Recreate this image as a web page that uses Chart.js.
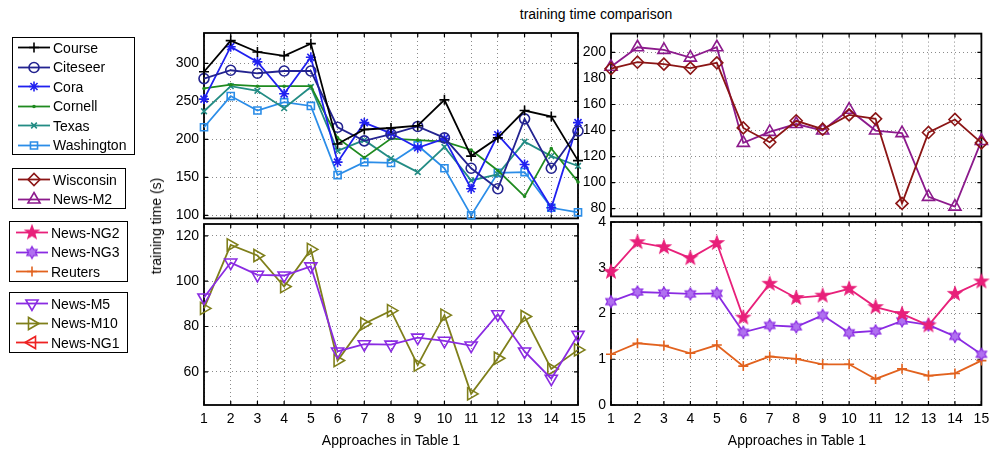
<!DOCTYPE html>
<html>
<head>
<meta charset="utf-8">
<script src="https://cdn.jsdelivr.net/npm/chart.js@4.4.1/dist/chart.umd.min.js"></script>
<style>
  body { margin: 0; background: #fff; font-family: "Liberation Sans", Arial, sans-serif; }
  #wrap { position: relative; width: 990px; height: 454px; overflow: hidden; }
  canvas.plot { position: absolute; }
  .txt { position: absolute; font-size: 14px; color: #000; white-space: nowrap; }
  .legend { position: absolute; border: 1px solid #000; background: #fff; box-sizing: border-box; }
  .row { display: flex; align-items: center; height: 19.5px; font-size: 14px; }
  .row canvas { display: block; }
</style>
</head>
<body>
<div id="wrap">
  <canvas class="plot" id="cTL" style="left:150px;top:25px" width="440" height="200"></canvas>
  <canvas class="plot" id="cTR" style="left:580px;top:25px" width="410" height="200"></canvas>
  <canvas class="plot" id="cBL" style="left:150px;top:214px" width="440" height="212"></canvas>
  <canvas class="plot" id="cBR" style="left:580px;top:212px" width="410" height="214"></canvas>
  <div class="txt" style="left:596px;top:6px;transform:translateX(-50%)">training time comparison</div>
  <div class="txt" style="left:156px;top:226px;transform:translate(-50%,-50%) rotate(-90deg)">training time (s)</div>
  <div class="txt" style="left:391px;top:432px;transform:translateX(-50%)">Approaches in Table 1</div>
  <div class="txt" style="left:797px;top:432px;transform:translateX(-50%)">Approaches in Table 1</div>
</div>
<script>
// x categories (approach number)
var approaches = ['1','2','3','4','5','6','7','8','9','10','11','12','13','14','15'];

// top left panel
var course     = [289, 330, 315, 310, 326, 194, 213, 215, 218, 252, 178, 202, 238, 230, 172];
var citeseer   = [280, 291, 287, 290, 290, 216, 198, 207, 217, 202, 162, 135, 227, 162, 211];
var cora       = [253, 322, 302, 260, 308, 170, 222, 208, 189, 201, 135, 206, 167, 110, 222];
var cornell    = [267, 272, 270, 270, 270, 202, 176, 201, 199, 197, 186, 159, 125, 188, 144];
var texas      = [237, 270, 264, 241, 269, 185, 199, 175, 157, 190, 146, 154, 197, 178, 165];
var washington = [216, 257, 238, 249, 244, 153, 170, 169, 192, 162, 100, 156, 157, 110, 104];

// top right panel
var wisconsin  = [187.5, 192.5, 191, 188, 192, 142, 131, 147.5, 141, 152, 149, 84, 138.5, 148.5, 130.5];
var newsM2     = [189, 204, 202, 196, 204, 130.5, 139, 145, 140, 156, 140, 138, 89, 81.5, 132];

// bottom left panel
var newsM5     = [92.8, 108.2, 102.8, 102.5, 106.5, 69, 72.2, 72, 75.1, 73.7, 71.6, 85.4, 69, 57, 76.3];
var newsM10    = [88, 116, 111.3, 97.6, 114, 65, 81.2, 87, 63, 85, 50.3, 66, 84.4, 61.3, 69.7];
var newsNG1    = [];

// bottom right panel
var newsNG2    = [2.91, 3.56, 3.45, 3.21, 3.54, 1.91, 2.65, 2.34, 2.39, 2.54, 2.14, 1.99, 1.74, 2.43, 2.70];
var newsNG3    = [2.26, 2.47, 2.45, 2.43, 2.44, 1.59, 1.74, 1.71, 1.96, 1.58, 1.62, 1.84, 1.75, 1.50, 1.11];
var reuters    = [1.11, 1.35, 1.30, 1.13, 1.31, 0.85, 1.06, 1.01, 0.89, 0.89, 0.57, 0.79, 0.64, 0.69, 0.97];

// y tick labels
var ticksTL = [100, 150, 200, 250, 300];
var ticksTR = [80, 100, 120, 140, 160, 180, 200];
var ticksBL = [60, 80, 100, 120];
var ticksBR = [0, 1, 2, 3, 4];

var FONT = "'Liberation Sans', Arial, sans-serif";

// star shaped markers (pentagram, hexagram) drawn to little canvases
function starMarker(points, rOut, rIn, color, fill) {
	var c = document.createElement('canvas');
	var s = Math.ceil(rOut * 2 + 4);
	c.width = s; c.height = s;
	var g = c.getContext('2d');
	g.translate(s / 2, s / 2);
	g.beginPath();
	for (var i = 0; i < points * 2; i++) {
		var r = i % 2 ? rIn : rOut;
		var a = -Math.PI / 2 + i * Math.PI / points;
		g.lineTo(r * Math.cos(a), r * Math.sin(a));
	}
	g.closePath();
	g.fillStyle = fill;
	g.fill();
	g.lineWidth = 1.2;
	g.strokeStyle = color;
	g.stroke();
	return c;
}
var pentagram = starMarker(5, 7, 2.9, '#e8207a', '#e8207a');
var hexagram = starMarker(6, 6, 3.5, '#8a2be2', '#b070f0');

function ds(label, data, color, style, radius, rot, fill) {
	return {
		label: label, data: data,
		borderColor: color, backgroundColor: color,
		borderWidth: 1.8,
		pointStyle: style, pointRadius: radius, pointRotation: rot || 0,
		pointBorderColor: color, pointBorderWidth: 1.6,
		pointBackgroundColor: fill ? color : 'rgba(0,0,0,0)',
		tension: 0, clip: false
	};
}

var setsTL = [
	ds('Course', course, '#000000', 'cross', 5),
	ds('Citeseer', citeseer, '#232390', 'circle', 5),
	ds('Cora', cora, '#2020f0', 'star', 5, 0, true),
	ds('Cornell', cornell, '#1f8a1f', 'circle', 1, 0, true),
	ds('Texas', texas, '#238c84', 'crossRot', 4),
	ds('Washington', washington, '#2b8de8', 'rect', 5)
];
var setsTR = [
	ds('Wisconsin', wisconsin, '#8b1515', 'rectRot', 6),
	ds('News-M2', newsM2, '#8c1a8c', 'triangle', 7)
];
var setsBR = [
	ds('News-NG2', newsNG2, '#e8207a', pentagram, 7),
	ds('News-NG3', newsNG3, '#8a2be2', hexagram, 6),
	ds('Reuters', reuters, '#e2621e', 'cross', 5)
];
var setsBL = [
	ds('News-M5', newsM5, '#8a2be2', 'triangle', 7, 180),
	ds('News-M10', newsM10, '#7f7f1a', 'triangle', 7, 90),
	ds('News-NG1', newsNG1, '#ee2222', 'triangle', 7, -90)
];

// black box round the plot area with inward tick marks
var boxPlugin = {
	id: 'box',
	beforeDatasetsDraw: function(chart) {
		var a = chart.chartArea, g = chart.ctx;
		g.save();
		g.strokeStyle = '#000';
		g.lineWidth = 1.2;
		g.setLineDash([]);
		g.beginPath();
		chart.scales.x.ticks.forEach(function(t, i) {
			var px = chart.scales.x.getPixelForTick(i);
			g.moveTo(px, a.bottom); g.lineTo(px, a.bottom - 4);
			g.moveTo(px, a.top); g.lineTo(px, a.top + 4);
		});
		chart.scales.y.ticks.forEach(function(t) {
			var py = chart.scales.y.getPixelForValue(t.value);
			g.moveTo(a.left, py); g.lineTo(a.left + 4, py);
			g.moveTo(a.right, py); g.lineTo(a.right - 4, py);
		});
		g.stroke();
		g.lineWidth = 1.8;
		g.strokeRect(a.left, a.top, a.right - a.left, a.bottom - a.top);
		g.restore();
	}
};

function makeChart(id, sets, yMin, yMax, yTicks, yWidth, showX, pad) {
	return new Chart(document.getElementById(id), {
		type: 'line',
		data: { labels: approaches, datasets: sets },
		options: {
			responsive: false,
			animation: false,
			layout: { padding: pad },
			plugins: { legend: { display: false }, tooltip: { enabled: false } },
			scales: {
				x: {
					type: 'category', offset: false,
					grid: { color: '#8a8a8a', lineWidth: 1, drawTicks: false },
					border: { display: false, dash: [1, 3] },
					ticks: { display: showX, color: '#000', font: { family: FONT, size: 14 }, padding: 6, maxRotation: 0, autoSkip: false },
					afterFit: function(s) { s.height = showX ? 21 : 0; s.paddingLeft = 0; s.paddingRight = 0; }
				},
				y: {
					min: yMin, max: yMax,
					grid: { color: '#8a8a8a', lineWidth: 1, drawTicks: false },
					border: { display: false, dash: [1, 3] },
					ticks: { color: '#000', font: { family: FONT, size: 14 }, padding: 5 },
					afterBuildTicks: function(s) { s.ticks = yTicks.map(function(v) { return { value: v }; }); },
					afterFit: function(s) { s.width = yWidth; s.paddingTop = 0; s.paddingBottom = 0; }
				}
			}
		},
		plugins: [boxPlugin]
	});
}

makeChart('cTL', setsTL, 96, 340, ticksTL, 54, false, { top: 8, right: 12, bottom: 5, left: 0 });
makeChart('cTR', setsTR, 74, 214.5, ticksTR, 31, false, { top: 8, right: 6, bottom: 5, left: 0 });
makeChart('cBL', setsBL, 45.4, 125.2, ticksBL, 54, true, { top: 10, right: 12, bottom: 0, left: 0 });
makeChart('cBR', setsBR, 0, 4, ticksBR, 31, true, { top: 10, right: 6, bottom: 0, left: 0 });

// legend boxes on the left
function legendBox(sets, left, top, w, h, lineL, lineR, padTop) {
	var box = document.createElement('div');
	box.className = 'legend';
	box.style.left = left + 'px'; box.style.top = top + 'px';
	box.style.width = w + 'px'; box.style.height = h + 'px';
	box.style.paddingTop = padTop + 'px';
	sets.forEach(function(d) {
		var row = document.createElement('div');
		row.className = 'row';
		var c = document.createElement('canvas');
		c.width = lineR + 3; c.height = 19;
		var g = c.getContext('2d');
		g.strokeStyle = d.borderColor; g.lineWidth = d.borderWidth;
		g.beginPath(); g.moveTo(lineL, 9.5); g.lineTo(lineR, 9.5); g.stroke();
		g.fillStyle = d.pointBackgroundColor; g.lineWidth = d.pointBorderWidth;
		if (Chart.helpers && Chart.helpers.drawPoint) {
			Chart.helpers.drawPoint(g, { pointStyle: d.pointStyle, radius: d.pointRadius, rotation: d.pointRotation, borderWidth: d.pointBorderWidth }, (lineL + lineR) / 2, 9.5);
		}
		var t = document.createElement('span');
		t.textContent = d.label;
		row.appendChild(c); row.appendChild(t);
		box.appendChild(row);
	});
	document.getElementById('wrap').appendChild(box);
}
legendBox(setsTL, 12, 37, 123, 118, 5, 37, 0);
legendBox(setsTR, 12, 168, 114, 41, 5, 37, 1);
legendBox(setsBR, 9, 221, 119, 61, 6, 38, 1);
legendBox(setsBL, 9, 292, 119, 61, 6, 38, 1);
</script>
</body>
</html>
